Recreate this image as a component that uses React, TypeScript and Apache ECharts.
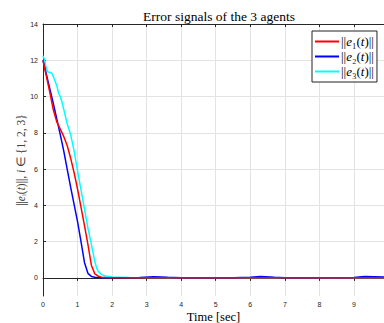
import React, { useEffect, useRef } from "react";
import * as echarts from "echarts";

const t1 = [0, 0.1, 0.2, 0.3, 0.4, 0.5, 0.6, 0.7, 0.8, 0.9, 1.0, 1.1, 1.2, 1.3, 1.4, 1.5, 1.6, 1.7, 1.8, 2.0, 3, 4, 5, 6, 7, 8, 9, 9.87];
const e1 = [12, 11.1, 10.2, 9.25, 8.6, 8.2, 7.8, 7.3, 6.6, 5.8, 4.9, 3.9, 2.9, 1.85, 0.7, 0.22, 0.09, 0.04, 0.02, 0.01, 0.01, 0.01, 0.01, 0.01, 0.01, 0.01, 0.01, 0.01];

const t2 = [0, 0.1, 0.2, 0.3, 0.4, 0.5, 0.6, 0.7, 0.8, 0.9, 1.0, 1.1, 1.2, 1.3, 1.4, 1.5, 1.7, 2.0, 2.8, 3.2, 3.6, 4.0, 5.5, 6.0, 6.3, 6.7, 7.0, 9.0, 9.3, 9.87];
const e2 = [12, 11.2, 10.4, 9.6, 8.75, 7.9, 7.0, 6.0, 5.0, 4.05, 3.1, 2.0, 0.85, 0.25, 0.08, 0.03, 0.01, 0.01, 0.02, 0.06, 0.03, 0.01, 0.01, 0.04, 0.07, 0.03, 0.01, 0.02, 0.07, 0.05];

const t3 = [0, 0.05, 0.1, 0.15, 0.25, 0.3, 0.4, 0.45, 0.5, 0.55, 0.6, 0.7, 0.8, 0.9, 1.0, 1.1, 1.2, 1.3, 1.4, 1.5, 1.55, 1.6, 1.7, 1.8, 2.0, 2.5, 4, 6, 8, 9.87];
const e3 = [12.25, 12.0, 11.5, 11.35, 11.3, 11.1, 10.6, 10.2, 10.0, 9.7, 9.3, 8.5, 7.9, 7.0, 5.9, 4.85, 3.8, 2.75, 1.85, 0.9, 0.55, 0.35, 0.18, 0.1, 0.05, 0.02, 0.01, 0.01, 0.01, 0.01];

const yTicks = [0, 2, 4, 6, 8, 10, 12, 14];
const xTicks = [0, 1, 2, 3, 4, 5, 6, 7, 8, 9];

const seriesNames = ["e1", "e2", "e3"];
const seriesColors = ["#ff0000", "#0000ff", "#00ffff"];
const legendSubs = ["₁", "₂", "₃"];

const zip = (t: number[], v: number[]) => t.map((x, i) => [x, v[i]]);

export default function App() {
  const ref = useRef<HTMLDivElement>(null);
  useEffect(() => {
    const chart = echarts.init(ref.current!, null, { renderer: "svg" });
    const serif = "Liberation Serif";
    const sans = "Liberation Sans";
    const datasets = [zip(t1, e1), zip(t2, e2), zip(t3, e3)];
    chart.setOption({
      animation: false,
      backgroundColor: "#ffffff",
      title: {
        text: "Error signals of the 3 agents",
        left: 214,
        textAlign: "center",
        top: 4,
        textStyle: { fontFamily: serif, fontSize: 13.5, fontWeight: "normal", color: "#000" },
      },
      grid: { left: 43, top: 24, right: 0, bottom: 27, outerBoundsMode: "none", containLabel: false },
      legend: {
        left: 312,
        top: 31,
        orient: "vertical",
        backgroundColor: "#fff",
        borderColor: "#222",
        borderWidth: 1,
        borderRadius: 0,
        padding: [4, 3, 4, 3],
        itemGap: 2,
        itemWidth: 24,
        itemHeight: 2,
        icon: "rect",
        data: seriesNames,
        formatter: (name: string) => {
          const i = seriesNames.indexOf(name);
          return "||{it|e}" + legendSubs[i] + "(" + "{it|t}" + ")||";
        },
        textStyle: {
          fontFamily: serif,
          fontSize: 13,
          color: "#000",
          padding: [0, 0, 0, -3],
          rich: { it: { fontFamily: serif, fontStyle: "italic", fontSize: 13 } },
        },
      },
      xAxis: [
        {
          type: "value",
          min: 0,
          max: 9.87,
          interval: 1,
          name: "Time [sec]",
          nameLocation: "middle",
          nameGap: 14,
          nameMoveOverlap: false,
          nameTextStyle: { fontFamily: serif, fontSize: 12.5, color: "#000" },
          axisLine: { lineStyle: { color: "#262626", width: 1 } },
          axisTick: { inside: false, length: 3, lineStyle: { color: "#262626" }, customValues: xTicks },
          axisLabel: {
            fontFamily: sans,
            fontSize: 7,
            color: "#262626",
            margin: 5,
            customValues: xTicks,
          },
          splitLine: { show: true, lineStyle: { color: "#e3e3e3", width: 1 } },
        },
        {
          type: "value",
          position: "top",
          min: 0,
          max: 9.87,
          interval: 1,
          axisLine: { show: true, lineStyle: { color: "#262626", width: 1 } },
          axisTick: { show: true, inside: true, length: 3, lineStyle: { color: "#262626" }, customValues: xTicks },
          axisLabel: { show: false },
          splitLine: { show: false },
        },
      ],
      yAxis: {
        type: "value",
        min: -1,
        max: 14,
        name: "||{it|e}ᵢ({it|t})||, {it|i} ∈ {1, 2, 3}",
        nameLocation: "middle",
        nameGap: 16,
        nameMoveOverlap: false,
        nameRotate: 90,
        nameTextStyle: {
          fontFamily: serif,
          fontSize: 11.5,
          color: "#404040",
          rich: {
            it: { fontFamily: serif, fontStyle: "italic", fontSize: 11.5, color: "#404040" },
          },
        },
        axisLine: { show: true, lineStyle: { color: "#262626", width: 1 } },
        axisTick: { show: true, inside: true, length: 3, lineStyle: { color: "#262626" }, customValues: yTicks },
        axisLabel: {
          fontFamily: sans,
          fontSize: 7,
          color: "#262626",
          margin: 5,
          customValues: yTicks,
        },
        splitLine: { show: true, lineStyle: { color: "#e3e3e3", width: 1 } },
      },
      series: seriesNames.map((n, i) => ({
        name: n,
        type: "line",
        data: datasets[i],
        showSymbol: false,
        symbol: "none",
        smooth: false,
        lineStyle: { color: seriesColors[i], width: 1.5 },
        itemStyle: { color: seriesColors[i] },
        z: 3 - i,
      })),
    });
    return () => chart.dispose();
  }, []);
  return <div ref={ref} style={{ width: 384, height: 323, position: "absolute", left: 0, top: 0 }} />;
}
